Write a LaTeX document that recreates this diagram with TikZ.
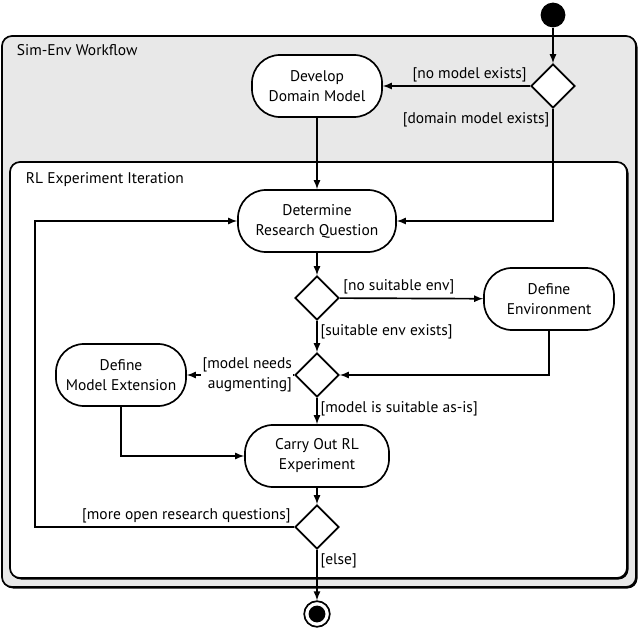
\documentclass[tikz,border=0pt]{standalone}
\usepackage{fontspec}
\setmainfont{PT Sans}
\usepackage{tikz}
\usetikzlibrary{shapes.geometric}

\begin{document}
\begin{tikzpicture}[
  x=0.025cm, y=-0.025cm,
  >=latex,
  every node/.style={font=\fontsize{11}{14.2}\selectfont},
  action/.style={draw, line width=1.2pt, fill=white, rounded corners=0.7cm, minimum height=1.55cm, align=center},
  decision/.style={diamond, draw, line width=1.2pt, fill=white, minimum width=1.1cm, minimum height=1.1cm, inner sep=0pt},
  arr/.style={->, line width=1.2pt},
  guard/.style={inner sep=2pt},
  frame/.style={draw, line width=1.2pt, rounded corners=0.25cm}
]
  \useasboundingbox (0,0) rectangle (640,630);

  % Rahmen: aeusserer Workflow und innere Iteration
  \fill[rounded corners=0.25cm] (3,37) rectangle (637.5,588.5);
  \draw[frame, fill=black!9] (2,36) rectangle (636,587);
  \node[anchor=west] (wflabel) at (12,50) {Sim-Env Workflow};
  \fill[rounded corners=0.25cm] (11,163) rectangle (628.5,579.5);
  \draw[frame, fill=white] (10,162) rectangle (627,578);
  \node[anchor=west] (itlabel) at (21,180) {RL Experiment Iteration};

  % Start und Ende
  \node[circle, fill=black, minimum size=0.62cm, inner sep=0pt] (start) at (553,15) {};
  \node[circle, draw, line width=1.2pt, fill=white, minimum size=0.64cm, inner sep=0pt] (final) at (317,614) {};
  \node[circle, fill=black, minimum size=0.42cm, inner sep=0pt] (finaldot) at (317,614) {};

  % Aktionen
  \node[action, minimum width=3.25cm] (ddm)  at (317, 86) {Develop\\Domain Model};
  \node[action, minimum width=3.95cm] (drq)  at (317,221) {Determine\\Research Question};
  \node[action, minimum width=3.25cm] (denv) at (549,299) {Define\\Environment};
  \node[action, minimum width=3.25cm] (dme)  at (121,375) {Define\\Model Extension};
  \node[action, minimum width=3.6cm]  (cre)  at (317,456) {Carry Out RL\\Experiment};

  % Entscheidungen
  \node[decision] (d1) at (553, 86) {};
  \node[decision] (d2) at (317,298) {};
  \node[decision] (d3) at (317,375) {};
  \node[decision] (d4) at (317,527) {};
  \coordinate (loop) at (35,221);

  % Kontrollfluss
  \draw[arr] (start) -- (d1);
  \draw[arr] (d1) -- node[guard, above left, pos=0] {[no model exists]} (ddm);
  \draw[arr] (d1) |- node[guard, below left, pos=0] {[domain model exists]} (drq);
  \draw[arr] (ddm) -- (drq);
  \draw[arr] (drq) -- (d2);
  \draw[arr] (d2) -- node[guard, above right, pos=0] {[no suitable env]} (denv);
  \draw[arr] (d2) -- node[guard, below right, pos=0] {[suitable env exists]} (d3);
  \draw[arr] (denv) |- (d3);
  \draw[arr] (d3) -- node[guard, left, pos=0, fill=white, align=right, inner sep=1pt] {[model needs\\augmenting]} (dme);
  \draw[arr] (d3) -- node[guard, below right, pos=0] {[model is suitable as-is]} (cre);
  \draw[arr] (dme) |- (cre);
  \draw[arr] (cre) -- (d4);
  \draw[arr] (d4) -| node[guard, above left, pos=0] {[more open research questions]} (loop) -- (drq);
  \draw[arr] (d4) -- node[guard, below right, pos=0] {[else]} (final);
\end{tikzpicture}
\end{document}
